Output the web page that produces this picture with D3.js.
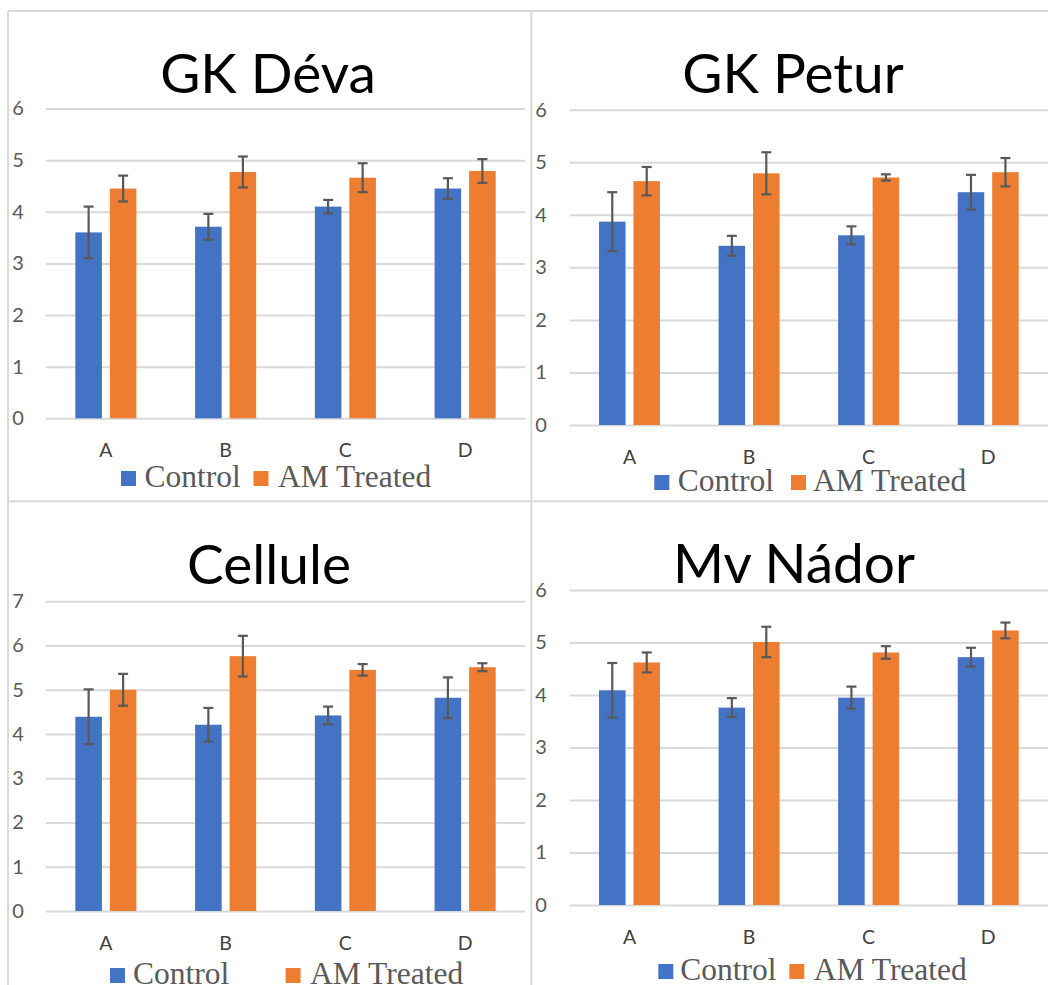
<!DOCTYPE html>
<html>
<head>
<meta charset="utf-8">
<script src="https://cdn.jsdelivr.net/npm/d3@7"></script>
<style>
  body { margin: 0; background: #fff; }
  svg { display: block; }
</style>
</head>
<body>
<div id="chart"></div>
<script>
// --- data ---
const categories = ['A', 'B', 'C', 'D'];
const seriesNames = ['Control', 'AM Treated'];
const panelTitles = ['GK Déva', 'GK Petur', 'Cellule', 'Mv Nádor'];
const yMaxValues = [6, 6, 7, 6];

const devaControl = [3.60, 3.71, 4.10, 4.45];
const devaControlErr = [0.50, 0.25, 0.13, 0.20];
const devaTreated = [4.45, 4.77, 4.66, 4.79];
const devaTreatedErr = [0.25, 0.30, 0.28, 0.23];

const peturControl = [3.87, 3.41, 3.61, 4.43];
const peturControlErr = [0.56, 0.19, 0.17, 0.33];
const peturTreated = [4.64, 4.79, 4.71, 4.81];
const peturTreatedErr = [0.27, 0.40, 0.06, 0.27];

const celluleControl = [4.39, 4.21, 4.42, 4.82];
const celluleControlErr = [0.62, 0.38, 0.20, 0.46];
const celluleTreated = [5.00, 5.76, 5.45, 5.51];
const celluleTreatedErr = [0.36, 0.46, 0.13, 0.09];

const nadorControl = [4.09, 3.76, 3.95, 4.72];
const nadorControlErr = [0.52, 0.18, 0.21, 0.18];
const nadorTreated = [4.62, 5.01, 4.81, 5.23];
const nadorTreatedErr = [0.19, 0.29, 0.12, 0.15];

const panels = [
    { values: [devaControl, devaTreated], errors: [devaControlErr, devaTreatedErr] },
    { values: [peturControl, peturTreated], errors: [peturControlErr, peturTreatedErr] },
    { values: [celluleControl, celluleTreated], errors: [celluleControlErr, celluleTreatedErr] },
    { values: [nadorControl, nadorTreated], errors: [nadorControlErr, nadorTreatedErr] }
];

// --- layout ---
const width = 1048, height = 985;
const colors = ['#4472C4', '#ED7D31'];
const gridColor = '#d9d9d9';
const labelFont = 'Lato, "Open Sans", sans-serif';

const layouts = [
    { left: 46, right: 525, top: 108.5, bottom: 418.3, titleX: 268, titleY: 93, tickX: 18, catY: 457,
      legendY: 487, legendX: [121, 144.5, 253.5, 278] },
    { left: 569.7, right: 1048, top: 109.7, bottom: 425, titleX: 793, titleY: 93, tickX: 541, catY: 463.5,
      legendY: 491, legendX: [654.3, 677.7, 791, 813] },
    { left: 46, right: 525, top: 601.3, bottom: 911, titleX: 269, titleY: 583.5, tickX: 18, catY: 950,
      legendY: 984, legendX: [110, 133, 285.6, 310] },
    { left: 569.7, right: 1048, top: 590, bottom: 905, titleX: 794, titleY: 582.5, tickX: 541, catY: 943.5,
      legendY: 980, legendX: [658.3, 680.3, 789.3, 813.7] }
];

const svg = d3.select('#chart').append('svg')
    .attr('width', width)
    .attr('height', height);

svg.append('rect').attr('width', width).attr('height', height).attr('fill', '#fff');

// chart frames
const frame = svg.append('g')
    .attr('stroke', gridColor)
    .attr('stroke-width', 2);
[[8, 11, 1048, 11], [8, 11, 8, 985], [531.3, 11, 531.3, 985], [8, 501.3, 1048, 501.3]].forEach(l => {
    frame.append('line').attr('x1', l[0]).attr('y1', l[1]).attr('x2', l[2]).attr('y2', l[3]);
});

function drawPanel(i) {
    const p = panels[i];
    const lay = layouts[i];
    const plotW = lay.right - lay.left;

    const x0 = d3.scaleBand()
        .domain(categories)
        .range([lay.left, lay.right])
        .paddingInner(0.49)
        .paddingOuter(0.245);

    const x1 = d3.scaleBand()
        .domain(d3.range(seriesNames.length))
        .range([0, x0.bandwidth()])
        .paddingInner(0.23);

    const y = d3.scaleLinear()
        .domain([0, yMaxValues[i]])
        .range([lay.bottom, lay.top]);

    const g = svg.append('g');

    // grid
    g.append('g')
        .attr('transform', `translate(${lay.left},0)`)
        .call(d3.axisLeft(y).ticks(yMaxValues[i]).tickSize(-plotW).tickFormat(''))
        .call(a => a.select('.domain').remove())
        .call(a => a.selectAll('line').attr('stroke', gridColor).attr('stroke-width', 2));

    // y tick labels
    g.append('g')
        .attr('transform', `translate(${lay.left},0)`)
        .call(d3.axisLeft(y).ticks(yMaxValues[i]).tickSize(0))
        .call(a => a.select('.domain').remove())
        .call(a => a.selectAll('text')
            .attr('x', lay.tickX - lay.left)
            .attr('text-anchor', 'middle')
            .attr('fill', '#595959')
            .style('font-family', labelFont)
            .style('font-size', '20px'));

    // category labels
    g.append('g')
        .attr('transform', `translate(0,${lay.bottom})`)
        .call(d3.axisBottom(x0).tickSize(0))
        .call(a => a.select('.domain').remove())
        .call(a => a.selectAll('text')
            .attr('y', lay.catY - lay.bottom)
            .attr('dy', 0)
            .attr('fill', '#404040')
            .style('font-family', labelFont)
            .style('font-size', '19.5px'));

    const rows = categories.map((c, j) => ({
        cat: c,
        items: seriesNames.map((s, k) => ({ k, v: p.values[k][j], e: p.errors[k][j] }))
    }));

    const groups = g.selectAll('.grp')
        .data(rows)
        .join('g')
        .attr('class', 'grp')
        .attr('transform', d => `translate(${x0(d.cat)},0)`);

    groups.selectAll('rect')
        .data(d => d.items)
        .join('rect')
        .attr('x', d => x1(d.k))
        .attr('y', d => y(d.v))
        .attr('width', x1.bandwidth())
        .attr('height', d => lay.bottom - y(d.v))
        .attr('fill', d => colors[d.k]);

    // error bars
    const capHalf = 5;
    const err = groups.selectAll('.err')
        .data(d => d.items)
        .join('g')
        .attr('class', 'err')
        .attr('stroke', '#595959')
        .attr('stroke-width', 2.2);
    err.append('line')
        .attr('x1', d => x1(d.k) + x1.bandwidth() / 2)
        .attr('x2', d => x1(d.k) + x1.bandwidth() / 2)
        .attr('y1', d => y(d.v + d.e))
        .attr('y2', d => y(d.v - d.e));
    [1, -1].forEach(sign => {
        err.append('line')
            .attr('x1', d => x1(d.k) + x1.bandwidth() / 2 - capHalf)
            .attr('x2', d => x1(d.k) + x1.bandwidth() / 2 + capHalf)
            .attr('y1', d => y(d.v + sign * d.e))
            .attr('y2', d => y(d.v + sign * d.e));
    });

    // title
    g.append('text')
        .attr('x', lay.titleX)
        .attr('y', lay.titleY)
        .attr('text-anchor', 'middle')
        .attr('fill', '#000')
        .style('font-family', labelFont)
        .style('font-size', '55px')
        .text(panelTitles[i]);

    // legend
    seriesNames.forEach((s, k) => {
        g.append('rect')
            .attr('x', lay.legendX[k * 2])
            .attr('y', lay.legendY - 16)
            .attr('width', 15)
            .attr('height', 15)
            .attr('fill', colors[k]);
        g.append('text')
            .attr('x', lay.legendX[k * 2 + 1])
            .attr('y', lay.legendY)
            .attr('fill', '#595959')
            .style('font-family', '"Liberation Serif", "Times New Roman", serif')
            .style('font-size', '31.5px')
            .text(s);
    });
}

panels.forEach((p, i) => drawPanel(i));
</script>
</body>
</html>
